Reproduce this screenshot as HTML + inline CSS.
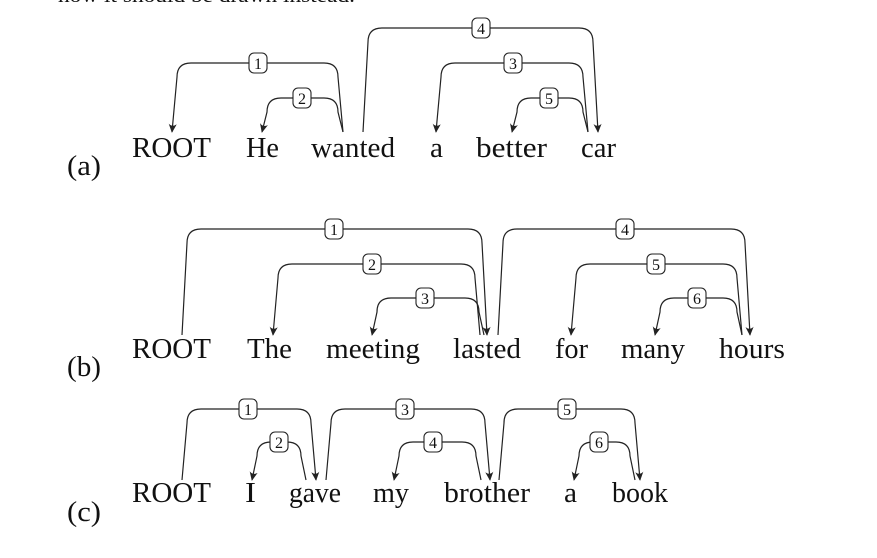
<!DOCTYPE html>
<html><head><meta charset="utf-8"><style>
html,body{margin:0;padding:0;background:#fff;}
svg{display:block;}
.w{font-family:"Liberation Serif",serif;font-size:28px;fill:#111;}
.l{font-family:"Liberation Serif",serif;font-size:16px;fill:#111;text-anchor:middle;}
path.a{fill:none;stroke:#222;stroke-width:1.2;}
rect.b{fill:#fff;stroke:#222;stroke-width:1.1;}
</style></head><body>
<svg width="877" height="558" viewBox="0 0 877 558" xmlns="http://www.w3.org/2000/svg">
<defs>
<marker id="ar" viewBox="0 0 10 10" refX="9" refY="5" markerWidth="9" markerHeight="9" orient="auto" markerUnits="userSpaceOnUse">
<path d="M0,0.5 Q4,5 0,9.5 L10,5 Z" fill="#222"/>
</marker>
</defs>
<text x="58" y="2" class="w" style="font-size:20px" textLength="297" lengthAdjust="spacingAndGlyphs">how it should be drawn instead.</text>

<!-- (a) -->
<g>
<path class="a" marker-end="url(#ar)" d="M343,132 L338,77 Q338,63 324,63 H191 Q177,63 177,77 L172,132"/>
<path class="a" marker-end="url(#ar)" d="M343,132 L338,112 Q338,98 324,98 H281 Q267,98 267,112 L262,132"/>
<path class="a" marker-end="url(#ar)" d="M363,132 L368,42 Q368,28 382,28 H579 Q593,28 593,42 L598,132"/>
<path class="a" marker-end="url(#ar)" d="M588,132 L583,77 Q583,63 569,63 H455 Q441,63 441,77 L436,132"/>
<path class="a" marker-end="url(#ar)" d="M588,132 L583,112 Q583,98 569,98 H531 Q517,98 517,112 L512,132"/>
<rect class="b" x="249" y="53" width="18" height="20" rx="5"/><text class="l" x="258" y="69">1</text>
<rect class="b" x="293" y="88" width="18" height="20" rx="5"/><text class="l" x="302" y="104">2</text>
<rect class="b" x="472" y="18" width="18" height="20" rx="5"/><text class="l" x="481" y="34">4</text>
<rect class="b" x="504" y="53" width="18" height="20" rx="5"/><text class="l" x="513" y="69">3</text>
<rect class="b" x="540" y="88" width="18" height="20" rx="5"/><text class="l" x="549" y="104">5</text>
<text class="w" x="67" y="175" textLength="34" lengthAdjust="spacingAndGlyphs">(a)</text>
<text class="w" x="132" y="157" textLength="79" lengthAdjust="spacingAndGlyphs">ROOT</text>
<text class="w" x="246" y="157" textLength="33" lengthAdjust="spacingAndGlyphs">He</text>
<text class="w" x="311" y="157" textLength="84" lengthAdjust="spacingAndGlyphs">wanted</text>
<text class="w" x="430" y="157" textLength="13" lengthAdjust="spacingAndGlyphs">a</text>
<text class="w" x="476" y="157" textLength="71" lengthAdjust="spacingAndGlyphs">better</text>
<text class="w" x="581" y="157" textLength="35" lengthAdjust="spacingAndGlyphs">car</text>
</g>

<!-- (b) -->
<g>
<path class="a" marker-end="url(#ar)" d="M182,335 L187,243 Q187,229 201,229 H468 Q482,229 482,243 L487,335"/>
<path class="a" marker-end="url(#ar)" d="M480,335 L475,278 Q475,264 461,264 H292 Q278,264 278,278 L273,335"/>
<path class="a" marker-end="url(#ar)" d="M484,335 L479,312 Q479,298 465,298 H391 Q377,298 377,312 L372,335"/>
<path class="a" marker-end="url(#ar)" d="M498,335 L503,243 Q503,229 517,229 H731 Q745,229 745,243 L750,335"/>
<path class="a" marker-end="url(#ar)" d="M742,335 L737,278 Q737,264 723,264 H590 Q576,264 576,278 L571,335"/>
<path class="a" marker-end="url(#ar)" d="M742,335 L737,312 Q737,298 723,298 H674 Q660,298 660,312 L655,335"/>
<rect class="b" x="325" y="219" width="18" height="20" rx="5"/><text class="l" x="334" y="235">1</text>
<rect class="b" x="363" y="254" width="18" height="20" rx="5"/><text class="l" x="372" y="270">2</text>
<rect class="b" x="416" y="288" width="18" height="20" rx="5"/><text class="l" x="425" y="304">3</text>
<rect class="b" x="616" y="219" width="18" height="20" rx="5"/><text class="l" x="625" y="235">4</text>
<rect class="b" x="647" y="254" width="18" height="20" rx="5"/><text class="l" x="656" y="270">5</text>
<rect class="b" x="688" y="288" width="18" height="20" rx="5"/><text class="l" x="697" y="304">6</text>
<text class="w" x="67" y="376" textLength="34" lengthAdjust="spacingAndGlyphs">(b)</text>
<text class="w" x="132" y="358" textLength="79" lengthAdjust="spacingAndGlyphs">ROOT</text>
<text class="w" x="247" y="358" textLength="45" lengthAdjust="spacingAndGlyphs">The</text>
<text class="w" x="326" y="358" textLength="94" lengthAdjust="spacingAndGlyphs">meeting</text>
<text class="w" x="453" y="358" textLength="68" lengthAdjust="spacingAndGlyphs">lasted</text>
<text class="w" x="555" y="358" textLength="33" lengthAdjust="spacingAndGlyphs">for</text>
<text class="w" x="621" y="358" textLength="64" lengthAdjust="spacingAndGlyphs">many</text>
<text class="w" x="719" y="358" textLength="66" lengthAdjust="spacingAndGlyphs">hours</text>
</g>

<!-- (c) -->
<g>
<path class="a" marker-end="url(#ar)" d="M182,480 L187,423 Q187,409 201,409 H297 Q311,409 311,423 L316,480"/>
<path class="a" marker-end="url(#ar)" d="M306,480 L301,456 Q301,442 287,442 H271 Q257,442 257,456 L252,480"/>
<path class="a" marker-end="url(#ar)" d="M326,480 L331,423 Q331,409 345,409 H471 Q485,409 485,423 L490,480"/>
<path class="a" marker-end="url(#ar)" d="M481,480 L476,456 Q476,442 462,442 H413 Q399,442 399,456 L394,480"/>
<path class="a" marker-end="url(#ar)" d="M499,480 L504,423 Q504,409 518,409 H621 Q635,409 635,423 L640,480"/>
<path class="a" marker-end="url(#ar)" d="M635,480 L630,456 Q630,442 616,442 H593 Q579,442 579,456 L574,480"/>
<rect class="b" x="239" y="399" width="18" height="20" rx="5"/><text class="l" x="248" y="415">1</text>
<rect class="b" x="270" y="432" width="18" height="20" rx="5"/><text class="l" x="279" y="448">2</text>
<rect class="b" x="396" y="399" width="18" height="20" rx="5"/><text class="l" x="405" y="415">3</text>
<rect class="b" x="424" y="432" width="18" height="20" rx="5"/><text class="l" x="433" y="448">4</text>
<rect class="b" x="558" y="399" width="18" height="20" rx="5"/><text class="l" x="567" y="415">5</text>
<rect class="b" x="590" y="432" width="18" height="20" rx="5"/><text class="l" x="599" y="448">6</text>
<text class="w" x="67" y="521" textLength="34" lengthAdjust="spacingAndGlyphs">(c)</text>
<text class="w" x="132" y="502" textLength="79" lengthAdjust="spacingAndGlyphs">ROOT</text>
<text class="w" x="245" y="502" textLength="11" lengthAdjust="spacingAndGlyphs">I</text>
<text class="w" x="289" y="502" textLength="52" lengthAdjust="spacingAndGlyphs">gave</text>
<text class="w" x="373" y="502" textLength="36" lengthAdjust="spacingAndGlyphs">my</text>
<text class="w" x="444" y="502" textLength="86" lengthAdjust="spacingAndGlyphs">brother</text>
<text class="w" x="564" y="502" textLength="13" lengthAdjust="spacingAndGlyphs">a</text>
<text class="w" x="612" y="502" textLength="56" lengthAdjust="spacingAndGlyphs">book</text>
</g>
</svg>
</body></html>
